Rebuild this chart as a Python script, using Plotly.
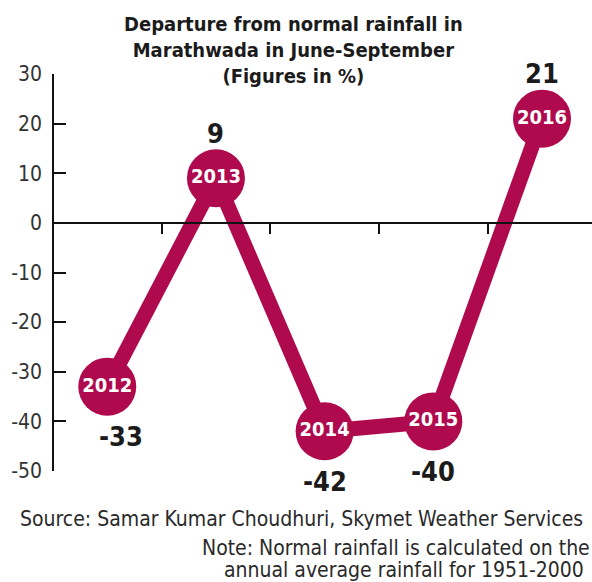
import plotly.graph_objects as go

# Departure from normal monsoon rainfall, Marathwada (June-September), in %
years = [2012, 2013, 2014, 2015, 2016]
year_labels = ["2012", "2013", "2014", "2015", "2016"]
departure = [-33, 9, -42, -40, 21]
y_ticks = [30, 20, 10, 0, -10, -20, -30, -40, -50]
y_tick_text = [str(t) for t in y_ticks]  # plain hyphen for negatives

LINE_COLOR = "#B00A4E"
TEXT_DARK = "#1b1b1b"
NARROW = "DejaVu Sans Condensed, Liberation Sans Narrow, Roboto Condensed, sans-serif"

W, H = 592, 582
ML, MR, MT, MB = 54, 0, 74, 111


def px_to_paper(px, py):
    return (px - ML) / (W - ML - MR), 1 - (py - MT) / (H - MT - MB)


fig = go.Figure()

fig.add_trace(go.Scatter(
    x=years,
    y=departure,
    mode="lines+markers+text",
    line=dict(color=LINE_COLOR, width=15),
    marker=dict(size=58, color=LINE_COLOR),
    text=year_labels,
    textposition="middle center",
    textfont=dict(family=NARROW, size=20, color="white", weight="bold"),
    hoverinfo="skip",
    cliponaxis=False,
))

# value labels above peaks, below troughs
for yr, v in zip(years, departure):
    above = v > 0
    fig.add_annotation(
        x=yr, y=v, xref="x", yref="y",
        text=f"<b>{v}</b>",
        showarrow=False,
        yshift=45 if above else -50,
        xshift=0 if (above or yr != 2012) else 14,
        font=dict(family=NARROW, size=27, color=TEXT_DARK),
    )

tx, ty = px_to_paper(293, 50)
fig.add_annotation(
    x=tx, y=ty, xref="paper", yref="paper",
    xanchor="center", yanchor="middle",
    text="<b>Departure from normal rainfall in<br>Marathwada in June-September<br>(Figures in %)</b>",
    showarrow=False, align="center",
    font=dict(family=NARROW, size=20, color=TEXT_DARK),
)

footer = [
    ("Source: Samar Kumar Choudhuri, Skymet Weather Services", 18, 519),
    ("Note: Normal rainfall is calculated on the", 200, 548),
    ("annual average rainfall for 1951-2000", 222, 570),
]
for txt, px, py in footer:
    fx, fy = px_to_paper(px, py)
    fig.add_annotation(
        x=fx, y=fy, xref="paper", yref="paper",
        xanchor="left", yanchor="middle",
        text=txt, showarrow=False,
        font=dict(family=NARROW, size=21, color="#2a2a2a"),
    )

fig.update_layout(
    width=W, height=H,
    margin=dict(l=ML, r=MR, t=MT, b=MB, pad=0),
    plot_bgcolor="white", paper_bgcolor="white",
    showlegend=False,
    xaxis=dict(
        range=[2011.51, 2016.46],
        anchor="free", position=50 / 80,
        showline=True, linecolor="#111", linewidth=1.5,
        tickvals=[2012.5, 2013.5, 2014.5, 2015.5],
        ticks="outside", ticklen=10, tickwidth=1.5, tickcolor="#111",
        showticklabels=False, showgrid=False, zeroline=False,
    ),
    yaxis=dict(
        range=[-50, 30],
        showline=True, linecolor="#111", linewidth=1.5,
        tickvals=y_ticks, ticktext=y_tick_text,
        ticks="inside", ticklen=12, tickwidth=1.5, tickcolor="#111",
        tickfont=dict(family=NARROW, size=21, color="#333"),
        ticklabelstandoff=6,
        showgrid=False, zeroline=False,
    ),
)

fig.write_html("out.html")
